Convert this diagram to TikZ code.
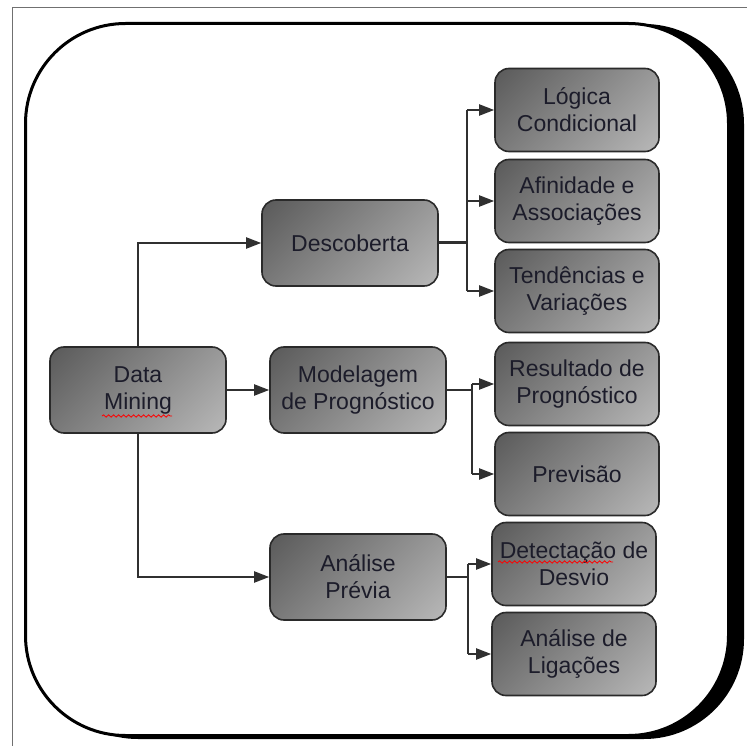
\documentclass[tikz,border=0pt]{standalone}
\usepackage{fontspec}
\setmainfont{Liberation Sans}
\usetikzlibrary{arrows.meta,calc,decorations.pathmorphing}

\definecolor{boxline}{HTML}{2A2A2A}
\definecolor{shadedark}{HTML}{5A5A5A}
\definecolor{shadelight}{HTML}{B8B8B8}
\definecolor{ink}{HTML}{1C1C2A}
\definecolor{wire}{HTML}{303030}
\definecolor{framegray}{HTML}{707070}

% smooth diagonal fill for the boxes, corner to corner
\pgfdeclareverticalshading{boxshade}{100bp}{%
  color(0bp)=(shadelight); color(15bp)=(shadelight);
  color(85bp)=(shadedark); color(100bp)=(shadedark)}

\begin{document}
\begin{tikzpicture}[x=1pt,y=-1pt,
  box/.style={draw=boxline, line width=1.6pt, rounded corners=14pt,
    shading=boxshade, shading angle=45,
    align=center, text=ink, font=\fontsize{23}{27}\selectfont, inner sep=0pt},
  hub/.style={box, minimum width=176pt, minimum height=86pt},
  leaf/.style={box, minimum width=164pt, minimum height=83pt},
  conn/.style={draw=wire, line width=2pt},
  arr/.style={conn, -{Triangle[length=15pt,width=11pt]}},
  squiggle/.style={draw=red, line width=0.8pt, decorate,
    decoration={snake, amplitude=1.2pt, segment length=5pt}}
]
\useasboundingbox (0,0) rectangle (747,746);

% page frame
\draw[framegray, line width=1pt] (12,752) -- (12,8) -- (752,8);

% rounded panel with its offset shadow
\fill[black, rounded corners=100pt] (38,24) rectangle (744,739);
\filldraw[fill=white, draw=black, line width=3pt, rounded corners=100pt]
  (25.5,23.5) rectangle (728.5,735.5);

% first level
\node[hub] (dm)   at (138,390) {Data\\Mining};
\node[hub] (desc) at (350,243) {Descoberta};
\node[hub] (mod)  at (358,390) {Modelagem\\de Prognóstico};
\node[hub] (ana)  at (358,577) {Análise\\Prévia};

% second level
\node[leaf] (log) at (577,110) {Lógica\\Condicional};
\node[leaf] (afi) at (577,201) {Afinidade e\\Associações};
\node[leaf] (ten) at (577,291) {Tendências e\\Variações};
\node[leaf] (res) at (577,384) {Resultado de\\Prognóstico};
\node[leaf] (pre) at (577,474) {Previsão};
\node[leaf] (det) at (574,564) {Detectação de\\Desvio};
\node[leaf] (lig) at (574,654) {Análise de\\Ligações};

% spelling marks under two words
\draw[squiggle] ($(dm.center)+(-36,26)$) -- ($(dm.center)+(34,26)$);
\draw[squiggle] ($(det.center)+(-76,-2)$) -- ($(det.center)+(39,-2)$);

% junction points
\coordinate (dj) at (467,243);
\coordinate (mj) at (472,390);
\coordinate (aj) at (468,577);

% Data Mining to the three branches
\draw[arr] (dm.north) |- (desc.west);
\draw[arr] (dm.east) -- (mod.west);
\draw[arr] (dm.south) |- (ana.west);

% Descoberta branch
\draw[conn, line width=3pt] (desc.east) -- (dj);
\draw[conn] (dj |- log.west) -- (dj |- ten.west);
\draw[arr] (dj |- log.west) -- (log.west);
\draw[arr] (dj |- afi.west) -- (afi.west);
\draw[arr] (dj |- ten.west) -- (ten.west);

% Modelagem branch
\draw[conn] (mod.east) -- (mj);
\draw[conn] (mj |- res.west) -- (mj |- pre.west);
\draw[arr] (mj |- res.west) -- (res.west);
\draw[arr] (mj |- pre.west) -- (pre.west);

% Analise Previa branch
\draw[conn] (ana.east) -- (aj);
\draw[conn] (aj |- det.west) -- (aj |- lig.west);
\draw[arr] (aj |- det.west) -- (det.west);
\draw[arr] (aj |- lig.west) -- (lig.west);
\end{tikzpicture}
\end{document}
